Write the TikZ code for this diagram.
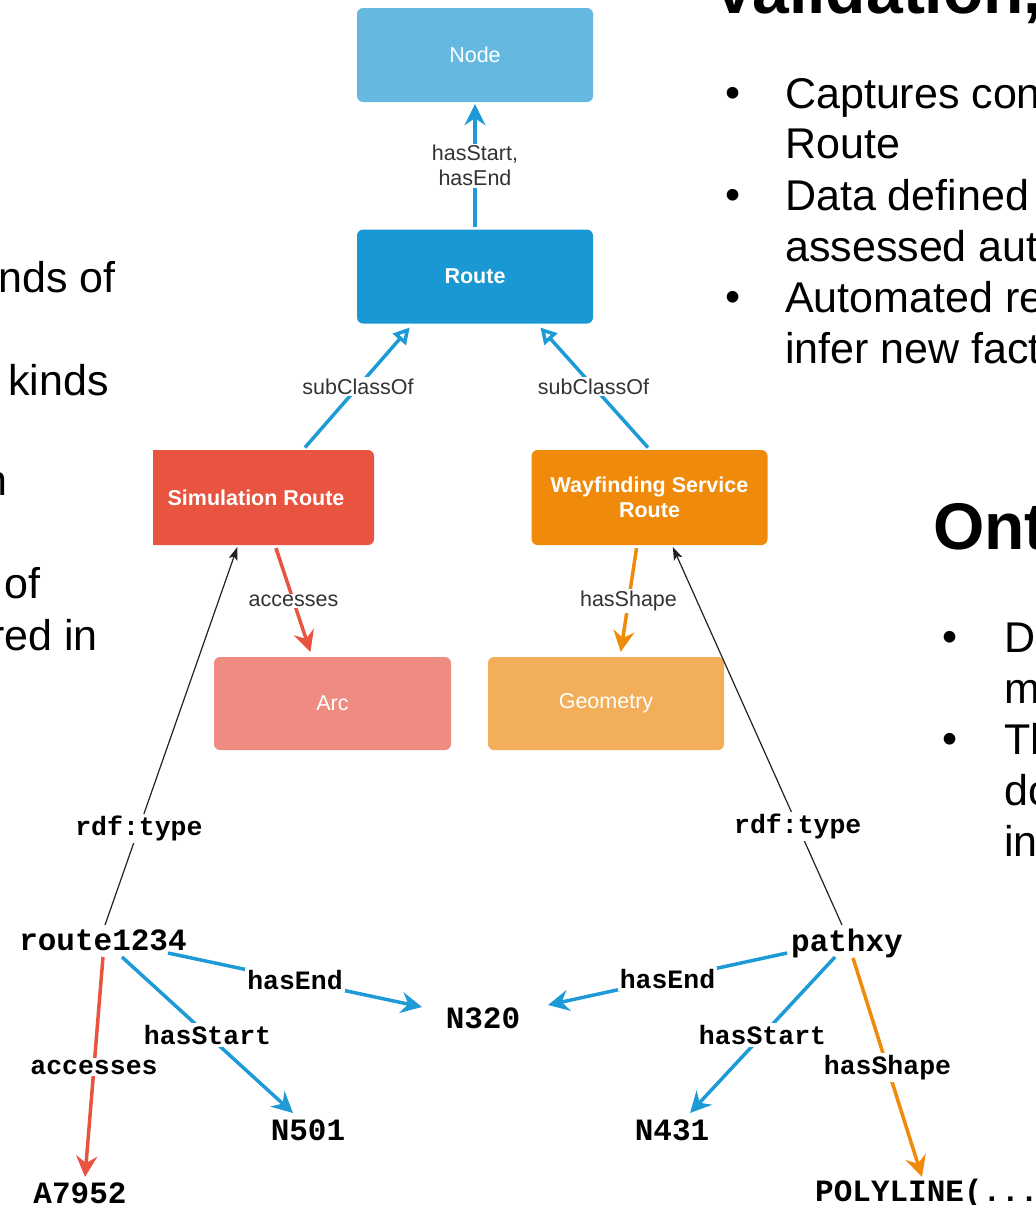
\documentclass[tikz,border=0pt]{standalone}
\usepackage{fontspec}
\setmainfont{Liberation Sans}
\setmonofont{Liberation Mono}
\usetikzlibrary{arrows.meta}

\definecolor{nodeblue}{HTML}{65B9E1}
\definecolor{routeblue}{HTML}{1A98D3}
\definecolor{edgeblue}{HTML}{1E9BD7}
\definecolor{simred}{HTML}{E8543F}
\definecolor{wayorange}{HTML}{EF8A0A}
\definecolor{arcsalmon}{HTML}{EF8C81}
\definecolor{geoorange}{HTML}{F3AE59}
\definecolor{lblgray}{HTML}{333333}
\definecolor{typeline}{HTML}{222222}

\tikzset{
  cls/.style={rounded corners=6pt, minimum width=236pt, minimum height=94pt,
    inner sep=0pt, text=white, align=center, font=\fontsize{21.5}{25}\selectfont},
  clsbold/.style={cls, font=\bfseries\fontsize{21.5}{25}\selectfont},
  rel/.style={fill=white, text=lblgray, inner sep=1.5pt, align=center,
    font=\fontsize{21.5}{25}\selectfont},
  inst/.style={inner sep=0pt, anchor=base, font=\ttfamily\bfseries\fontsize{31}{31}\selectfont},
  ilbl/.style={fill=white, inner sep=2pt, text=black,
    font=\ttfamily\bfseries\fontsize{26.5}{26.5}\selectfont},
  solidtip/.style={-{Stealth[length=21pt,width=21pt,inset=7pt]}},
  bluerel/.style={draw=edgeblue, line width=3.5pt, solidtip},
  redrel/.style={draw=simred, line width=3.5pt, solidtip},
  orangerel/.style={draw=wayorange, line width=3.5pt, solidtip},
  subrel/.style={draw=edgeblue, line width=3.5pt,
    -{Triangle[open,length=16pt,width=17pt,fill=white]}},
  typerel/.style={draw=typeline, line width=1.2pt, -{Stealth[length=13pt,width=9pt,inset=3pt]}},
  body/.style={inner sep=0pt, anchor=base west, font=\fontsize{43}{51}\selectfont},
  bodyright/.style={body, anchor=base east},
  titlefont/.style={inner sep=0pt, anchor=base west, font=\bfseries\fontsize{66}{70}\selectfont},
}

\begin{document}
\begin{tikzpicture}[x=1pt, y=-1pt]
\useasboundingbox (0,0) rectangle (1036,1205);
\clip (0,0) rectangle (1036,1205);

% ---- slide text around the figure ----
\node[bodyright] (l1) at (116,292) {nds of};
\node[bodyright] (l2) at (109,395) {kinds};
\node[bodyright] (l3) at (8,495) {n};
\node[bodyright] (l4) at (41,598) {of};
\node[bodyright] (l5) at (98,650) {red in};

\node[titlefont] (t1) at (712,13) {Validation,};
\node[body] (b1) at (725,107) {•};
\node[body] (c1) at (785,108) {Captures con};
\node[body] (c2) at (785,158) {Route};
\node[body] (b2) at (725,209) {•};
\node[body] (c3) at (785,210) {Data defined};
\node[body] (c4) at (785,261) {assessed aut};
\node[body] (b3) at (725,311) {•};
\node[body] (c5) at (785,312) {Automated re};
\node[body] (c6) at (785,363) {infer new fact};

\node[titlefont] (t2) at (933,549) {Ont};
\node[body] (b4) at (942,651) {•};
\node[body] (d1) at (1004,652) {D};
\node[body] (d2) at (1004,703) {m};
\node[body] (b5) at (942,753) {•};
\node[body] (d3) at (1004,754) {Th};
\node[body] (d4) at (1004,805) {do};
\node[body] (d5) at (1004,856) {in};

% ---- class boxes ----
\node[cls, fill=nodeblue] (node) at (475,55) {Node};
\node[clsbold, fill=routeblue] (route) at (475,276.5) {Route};
\begin{scope}
  \clip (153,0) rectangle (1036,1205);
  \node[clsbold, fill=simred, minimum height=95pt] (sim) at (256,497.5) {Simulation Route};
\end{scope}
\node[clsbold, fill=wayorange, minimum height=95pt] (way) at (649.5,497.5) {Wayfinding Service\\Route};
\node[cls, fill=arcsalmon, minimum width=237pt, minimum height=93pt] (arc) at (332.5,703.5) {Arc};
\node[cls, fill=geoorange, minimum height=93pt] (geo) at (606,703.5) {Geometry};

% ---- class relations ----
\draw[bluerel, shorten <=2pt, shorten >=2pt] (route.north) -- (node.south)
  node[rel, midway] {hasStart,\\hasEnd};
\draw[subrel, shorten <=3pt, shorten >=5pt] ([xshift=47pt]sim.north) -- ([xshift=-62pt]route.south)
  node[rel, midway] {subClassOf};
\draw[subrel, shorten <=3pt, shorten >=5pt] ([xshift=0.5pt]way.north) -- ([xshift=62pt]route.south)
  node[rel, midway] {subClassOf};
\draw[redrel, shorten <=3pt, shorten >=5pt] ([xshift=19pt]sim.south) -- ([xshift=-20.5pt]arc.north)
  node[rel, midway] {accesses};
\draw[orangerel, shorten <=3pt, shorten >=5pt] ([xshift=-12.5pt]way.south) -- ([xshift=14pt]geo.north)
  node[rel, midway] {hasShape};

% ---- instances ----
\node[inst] (r1234) at (103,950) {route1234};
\node[inst] (n320) at (483,1028) {N320};
\node[inst] (n501) at (308,1140) {N501};
\node[inst] (a7952) at (80,1203) {A7952};
\node[inst] (pathxy) at (847,951) {pathxy};
\node[inst] (n431) at (672,1140) {N431};
\node[inst, anchor=base west] (poly) at (815,1201) {POLYLINE(...};

% ---- instance relations ----
\draw[typerel, shorten >=2pt] ([xshift=2pt,yshift=25pt]r1234.base) -- ([xshift=-18pt]sim.south)
  node[ilbl, pos=0.255] {rdf:type};
\draw[typerel, shorten >=2pt] ([xshift=-5pt,yshift=26pt]pathxy.base) -- ([xshift=22.5pt]way.south)
  node[ilbl, pos=0.26] {rdf:type};

\draw[bluerel] ([xshift=65pt,yshift=-3pt]r1234.base) -- ([xshift=-61pt,yshift=21pt]n320.base)
  node[ilbl, midway] {hasEnd};
\draw[bluerel] ([xshift=19pt,yshift=-7pt]r1234.base) -- ([xshift=-15pt,yshift=27pt]n501.base)
  node[ilbl, midway] {hasStart};
\draw[redrel] ([yshift=-7pt]r1234.base) -- ([xshift=5pt,yshift=26pt]a7952.base)
  node[ilbl, midway] {accesses};

\draw[bluerel] ([xshift=-60pt,yshift=-2pt]pathxy.base) -- ([xshift=65pt,yshift=23pt]n320.base)
  node[ilbl, midway] {hasEnd};
\draw[bluerel] ([xshift=-12pt,yshift=-6pt]pathxy.base) -- ([xshift=18pt,yshift=27pt]n431.base)
  node[ilbl, midway] {hasStart};
\draw[orangerel] ([xshift=6pt,yshift=-7pt]pathxy.base) -- ([xshift=107pt,yshift=24pt]poly.base west)
  node[ilbl, midway] {hasShape};
\end{tikzpicture}
\end{document}
